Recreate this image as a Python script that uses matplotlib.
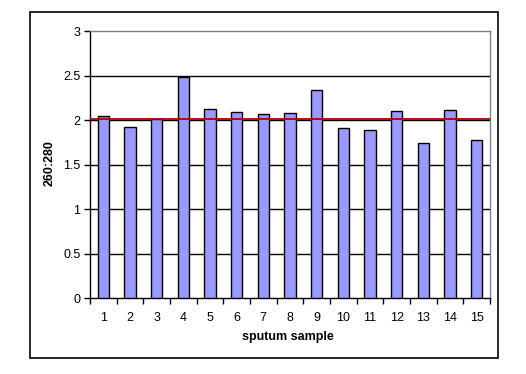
import matplotlib
matplotlib.use("Agg")
import matplotlib.pyplot as plt
from matplotlib.patches import Rectangle

plt.rcParams['font.family'] = ['Liberation Sans', 'DejaVu Sans']

samples = list(range(1, 16))
ratios = [2.05, 1.93, 2.02, 2.49, 2.13, 2.09, 2.07, 2.08, 2.34, 1.91, 1.89, 2.10, 1.74, 2.12, 1.78]
reference_ratio = 2.02
y_ticks = [0, 0.5, 1, 1.5, 2, 2.5, 3]
y_tick_labels = ['0', '0.5', '1', '1.5', '2', '2.5', '3']

W, H = 526, 374
fig = plt.figure(figsize=(W / 100, H / 100), dpi=100)
fig.patch.set_facecolor('white')

# plot area in pixels: left 90, right 490, top 31, bottom 298
l, r, t, b = 90, 490, 31.3, 298.3
ax = fig.add_axes([l / W, 1 - b / H, (r - l) / W, (b - t) / H])

ax.bar(samples, ratios, width=0.42, color='#9999FF', edgecolor='black', linewidth=1.0, zorder=3)
ax.axhline(reference_ratio, color='#B00000', linewidth=1.3, zorder=4)

ax.set_xlim(0.5, 15.5)
ax.set_ylim(0, 3)
ax.set_yticks(y_ticks)
ax.set_yticklabels(y_tick_labels)
for y in y_ticks[1:-1]:
    ax.axhline(y, color='black', linewidth=1.0, zorder=1)

ax.set_xticks([x + 0.5 for x in range(0, 16)], minor=False)
ax.set_xticklabels([''] * 16)
ax.set_xticks(samples, minor=True)
ax.set_xticklabels([str(s) for s in samples], minor=True)
ax.tick_params(axis='x', which='major', direction='out', length=4, width=1, color='black')
ax.tick_params(axis='x', which='minor', length=0, pad=10, labelsize=9, labelcolor='black')
ax.tick_params(axis='y', direction='out', length=4, width=1, pad=3, labelsize=9)

for s in ['top', 'right']:
    ax.spines[s].set_color('#808080')
    ax.spines[s].set_linewidth(1.0)
for s in ['left', 'bottom']:
    ax.spines[s].set_color('black')
    ax.spines[s].set_linewidth(1.0)

fig.text(288 / W, 1 - 337 / H, 'sputum sample', ha='center', va='center', fontsize=9, fontweight='bold')
fig.text(50 / W, 1 - 163 / H, '260:280', ha='center', va='center', rotation=90, fontsize=9, fontweight='bold')

frame = Rectangle((30 / W, 1 - 358 / H), (498 - 30) / W, (358 - 12) / H,
                  transform=fig.transFigure, fill=False, edgecolor='black', linewidth=1.2)
fig.add_artist(frame)

fig.savefig('out.png', dpi=100)
